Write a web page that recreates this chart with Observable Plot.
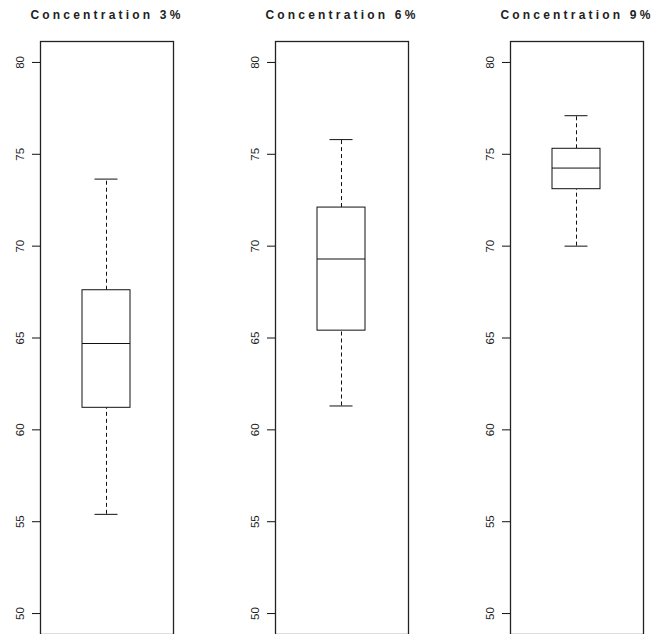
<!DOCTYPE html>
<html><head><meta charset="utf-8">
<script src="https://cdn.jsdelivr.net/npm/d3@7"></script>
<script src="https://cdn.jsdelivr.net/npm/@observablehq/plot@0.6"></script>
<style>body{margin:0;background:#fff}</style>
</head><body><div id="chart"></div>
<script>
const concentrations = [3, 6, 9];
const whiskerLow = [55.4, 61.3, 70.0];
const q1 = [61.2, 65.4, 73.1];
const median = [64.7, 69.3, 74.25];
const q3 = [67.6, 72.1, 75.3];
const whiskerHigh = [73.65, 75.8, 77.1];
const yTicks = [50, 55, 60, 65, 70, 75, 80];

const data = concentrations.map((c, i) => ({
  c, g: "box", lo: whiskerLow[i], q1: q1[i], med: median[i], q3: q3[i], hi: whiskerHigh[i]
}));

const plot = Plot.plot({
  width: 657, height: 634,
  marginLeft: 39, marginRight: 12, marginTop: 41, marginBottom: 0,
  style: {fontFamily: "'Liberation Sans', Arial, sans-serif", background: "#fff", color: "#111"},
  fx: {domain: concentrations, paddingInner: 0.432, paddingOuter: 0},
  x: {domain: ["box"], padding: 0.4645, axis: null},
  y: {domain: [48.86, 81.14]},
  marks: [
    Plot.frame({stroke: "#222", strokeWidth: 1.3}),
    Plot.axisY(yTicks, {facetAnchor: null, tickSize: 8, tickFormat: () => "", label: null}),
    Plot.axisY(yTicks, {facetAnchor: null, tickSize: 0, tickPadding: 20.5, rotate: -90, textAnchor: "middle", fontSize: 11.5, label: null, fill: "#222"}),
    Plot.axisFx({anchor: "top", tickSize: 0, tickPadding: 23, tickFormat: d => `Concentration ${d}%`, fontWeight: "bold", fontSize: 12, label: null, fill: "#222"}),
    Plot.ruleX(data, {fx: "c", x: "g", y1: "lo", y2: "q1", strokeDasharray: "4,3"}),
    Plot.ruleX(data, {fx: "c", x: "g", y1: "q3", y2: "hi", strokeDasharray: "4,3"}),
    Plot.tickY(data, {fx: "c", x: "g", y: "lo", insetLeft: 12.5, insetRight: 12.5}),
    Plot.tickY(data, {fx: "c", x: "g", y: "hi", insetLeft: 12.5, insetRight: 12.5}),
    Plot.barY(data, {fx: "c", x: "g", y1: "q1", y2: "q3", fill: "white", stroke: "#111"}),
    Plot.tickY(data, {fx: "c", x: "g", y: "med"})
  ]
});
d3.select(plot).selectAll("g[aria-label='fx-axis tick label'] text").attr("letter-spacing", "3.2px");
document.getElementById("chart").appendChild(plot);
</script>
</body></html>
